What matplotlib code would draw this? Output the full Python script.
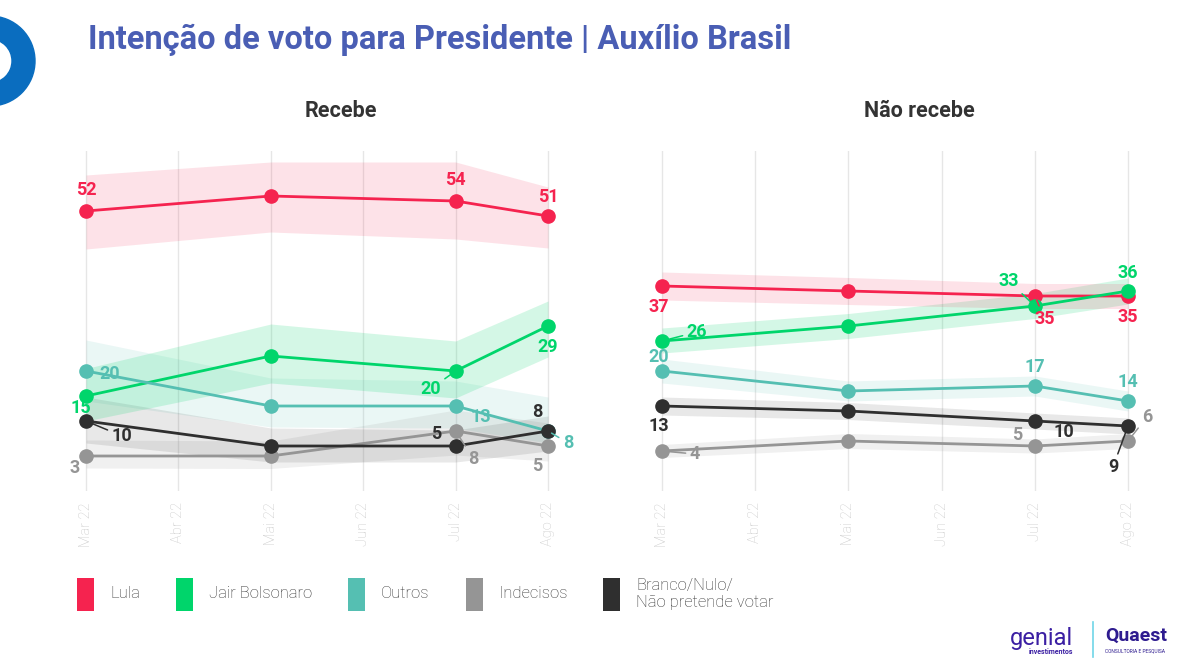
import matplotlib
matplotlib.use('Agg')
import matplotlib.pyplot as plt
from matplotlib.patches import Wedge, Rectangle

plt.rcParams['font.family'] = ['Roboto', 'DejaVu Sans']

# ---- data ----
months = ['Mar 22', 'Abr 22', 'Mai 22', 'Jun 22', 'Jul 22', 'Ago 22']
survey_idx = [0, 2, 4, 5]          # Mar, Mai, Jul, Ago
series = ['Lula', 'Jair Bolsonaro', 'Outros', 'Indecisos', 'Branco/Nulo/\nNão pretende votar']
colors = ['#f5234f', '#00d56b', '#55bfb2', '#959595', '#2f2f2f']

# Recebe
rec_lula = [52, 55, 54, 51]
rec_bolso = [15, 23, 20, 29]
rec_outros = [20, 13, 13, 8]
rec_indec = [3, 3, 8, 5]
rec_branco = [10, 5, 5, 8]
rec_lo = [[44.4, 47.8, 46.4, 44.6], [10, 17.6, 14.6, 22.8], [14, 8.8, 8.6, 5.6],
          [0.6, 0.5, 3.2, 2], [5.6, 1.8, 1.8, 4]]
rec_hi = [[59.2, 61.8, 61.8, 56.8], [20.5, 29.4, 26, 34], [26.2, 18.6, 18, 14.8],
          [6.2, 6, 12.2, 9.6], [14.8, 8.6, 8.2, 11]]

# Não recebe
nao_lula = [37, 36, 35, 35]
nao_bolso = [26, 29, 33, 36]
nao_outros = [20, 16, 17, 14]
nao_indec = [4, 6, 5, 6]
nao_branco = [13, 12, 10, 9]
nao_lo = [[34.2, 33.3, 32.5, 32.5], [23.6, 26.5, 30.5, 33.4], [17.6, 14, 15, 12],
          [2.7, 4.5, 3.6, 4.5], [11.2, 10.3, 8.4, 7.4]]
nao_hi = [[39.8, 38.7, 37.5, 37.5], [28.6, 31.5, 35.5, 38.6], [22.4, 18, 19, 16],
          [5.3, 7.5, 6.4, 7.5], [14.8, 13.7, 11.6, 10.6]]

labelled = [0, 2, 3]   # which survey points carry a value label

# label offsets in pixels (dx, dy, leader line) for Mar, Jul, Ago
rec_offsets = [
    [(0, 21, 0), (0, 21, 0), (0, 19, 0)],
    [(-5, -12, 0), (-25, -18, 1), (0, -21, 0)],
    [(24, -3, 0), (25, -11, 0), (20, -12, 1)],
    [(-11, -12, 0), (18, -28, 1), (-11, -20, 0)],
    [(36, -15, 1), (-19, 12, 0), (-11, 19, 0)],
]
nao_offsets = [
    [(-3, -21, 0), (10, -23, 1), (0, -21, 0)],
    [(35, 9, 1), (-26, 25, 1), (0, 18, 0)],
    [(-3, 14, 0), (0, 19, 0), (0, 19, 0)],
    [(33, -3, 1), (-18, 11, 0), (19, 24, 1)],
    [(-3, -20, 0), (29, -11, 0), (-15, -41, 1)],
]

band_alpha = [0.13, 0.17, 0.12, 0.14, 0.11]
draw_order = [2, 3, 4, 1, 0]

W, H = 1200, 672
fig = plt.figure(figsize=(12, 6.72), dpi=100)

# background overlay (pixel coords) for logo, title, legend
ov = fig.add_axes([0, 0, 1, 1])
ov.set_xlim(0, W)
ov.set_ylim(H, 0)
ov.axis('off')

ov.add_patch(Wedge((-10, 61), 45, 0, 360, width=23, color='#0a6dbf'))
ov.text(88, 40, 'Intenção de voto para Presidente | Auxílio Brasil', fontsize=23.5,
        fontweight='bold', color='#4a5eb4', va='center', ha='left')


def panel(left_px, unit_px, vals, lo, hi, offsets):
    left = (left_px - 0.3 * unit_px) / W
    width = 5.6 * unit_px / W
    ax = fig.add_axes([left, 1 - 491 / H, width, 340 / H])
    ax.set_xlim(-0.3, 5.3)
    ax.set_ylim(-4, 64)
    for s in ax.spines.values():
        s.set_visible(False)
    ax.set_yticks([])
    ax.set_xticks(range(len(months)))
    ax.set_xticklabels(months, rotation=90, color='#c8c8c8', fontsize=10.5,
                       fontweight='light')
    ax.tick_params(axis='x', length=0, pad=8)
    ax.grid(axis='x', color='#e6e6e6', lw=1)
    ax.set_axisbelow(True)
    ax.patch.set_alpha(0)

    for i in draw_order:
        c = colors[i]
        ax.fill_between(survey_idx, lo[i], hi[i], color=c, alpha=band_alpha[i],
                        lw=0, zorder=1)
    for i in draw_order:
        c = colors[i]
        ax.plot(survey_idx, vals[i], color=c, lw=2, marker='o', ms=9.5, zorder=3 + i * 0.1)
    for i in range(len(series)):
        c = colors[i]
        for k, j in enumerate(labelled):
            dx, dy, lead = offsets[i][k]
            ap = None
            if lead:
                ap = dict(arrowstyle='-', color=c, lw=1.1, shrinkA=1, shrinkB=3)
            ax.annotate(str(vals[i][j]), (survey_idx[j], vals[i][j]),
                        xytext=(dx, dy), textcoords='offset pixels',
                        ha='center', va='center', fontsize=13, fontweight='bold',
                        color=c, arrowprops=ap, zorder=6)
    return ax


panel(86, 92.4, [rec_lula, rec_bolso, rec_outros, rec_indec, rec_branco],
      rec_lo, rec_hi, rec_offsets)
panel(662, 93.2, [nao_lula, nao_bolso, nao_outros, nao_indec, nao_branco],
      nao_lo, nao_hi, nao_offsets)

ov.text(341, 111, 'Recebe', fontsize=15.5, fontweight='bold', color='#333333',
        ha='center', va='center')
ov.text(919, 111, 'Não recebe', fontsize=15.5, fontweight='bold', color='#333333',
        ha='center', va='center')

# legend
leg_x = [77, 176, 348, 466, 603]
for i, name in enumerate(series):
    ov.add_patch(Rectangle((leg_x[i], 578), 17, 33, color=colors[i], lw=0))
    ov.text(leg_x[i] + 33, 594, name, fontsize=12, fontweight='light',
            color='#333333', va='center', ha='left', linespacing=1.15)

# partner logos
ov.text(1010, 638, 'genial', fontsize=17, color='#3b1fa3', ha='left', va='center')
ov.text(1029, 652, 'investimentos', fontsize=5, fontweight='bold', color='#3b1fa3',
        ha='left', va='center')
ov.plot([1093, 1093], [622, 657], color='#6fd6e8', lw=1.2)
ov.text(1105, 636, 'Quaest', fontsize=14, fontweight='bold', color='#2e1b8f',
        ha='left', va='center')
ov.text(1105, 651, 'CONSULTORIA E PESQUISA', fontsize=3.5, color='#2e1b8f',
        ha='left', va='center')

fig.savefig('out.png', dpi=100)
